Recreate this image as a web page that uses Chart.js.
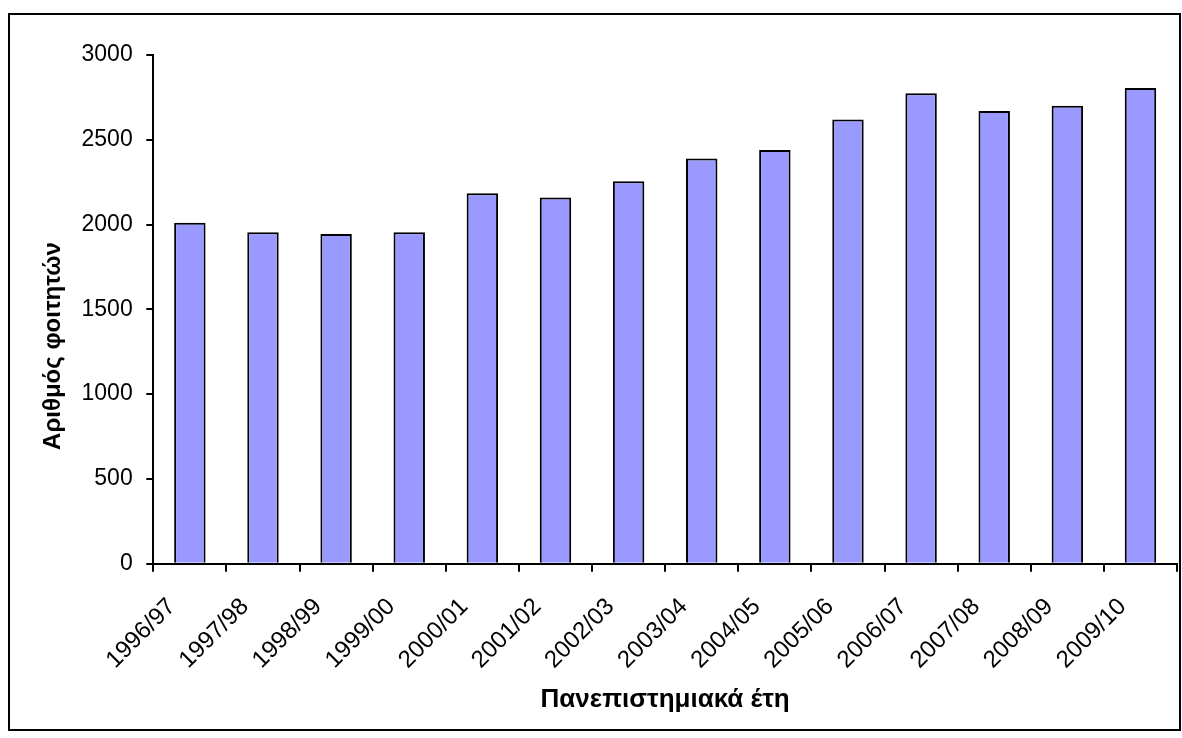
<!DOCTYPE html>
<html>
<head>
<meta charset="utf-8">
<style>
  body { margin: 0; background: #fff; }
  #wrap { width: 1182px; height: 738px; }
</style>
</head>
<body>
<div id="wrap">
  <canvas id="myChart" width="1182" height="738"></canvas>
</div>

<script src="https://cdn.jsdelivr.net/npm/chart.js"></script>
<script>
  // Ακαδημαϊκά έτη και αριθμός φοιτητών
  const years = ['1996/97', '1997/98', '1998/99', '1999/00', '2000/01', '2001/02', '2002/03',
                 '2003/04', '2004/05', '2005/06', '2006/07', '2007/08', '2008/09', '2009/10'];
  const students = [2010, 1955, 1945, 1955, 2185, 2160, 2255, 2390, 2440, 2620, 2775, 2670, 2700, 2805];

  const yMin = 0;
  const yMax = 3000;
  const yStep = 500;

  const xTitle = 'Πανεπιστημιακά έτη';
  const yTitle = 'Αριθμός φοιτητών';

  const fontFamily = '"Liberation Sans", Arial, sans-serif';

  // Τίτλος του άξονα y και πλαίσιο γύρω από το γράφημα
  const decorPlugin = {
    id: 'decor',
    afterDraw(chart) {
      const ctx = chart.ctx;
      ctx.save();
      ctx.strokeStyle = '#000';
      ctx.lineWidth = 2;
      ctx.strokeRect(9, 14, 1171, 716);

      ctx.translate(53, 346);
      ctx.rotate(-Math.PI / 2);
      ctx.font = 'bold 24px ' + fontFamily;
      ctx.fillStyle = '#000';
      ctx.textAlign = 'center';
      ctx.textBaseline = 'middle';
      ctx.fillText(yTitle, 0, 0);
      ctx.restore();
    }
  };

  const data = {
    labels: years,
    datasets: [
      {
        label: yTitle,
        data: students,
        backgroundColor: '#9999FF',
        borderColor: '#000',
        borderWidth: 2,
        categoryPercentage: 1,
        barPercentage: 0.43,
      },
    ]
  };

  const config = {
    type: 'bar',
    data: data,
    plugins: [decorPlugin],
    options: {
      responsive: false,
      animation: false,
      layout: { padding: { top: 55, right: 4.7, left: 0, bottom: 0 } },
      plugins: {
        legend: { display: false },
        tooltip: { enabled: false },
      },
      scales: {
        x: {
          afterFit: (scale) => { scale.height = 174.3; },
          border: { color: '#000', width: 2 },
          grid: {
            offset: true,
            drawOnChartArea: false,
            color: '#000',
            lineWidth: 2,
            tickLength: 8,
          },
          ticks: {
            color: '#000',
            font: { family: fontFamily, size: 24 },
            minRotation: 45,
            maxRotation: 45,
            autoSkip: false,
            padding: 21,
            labelOffset: -18,
          },
          title: {
            display: true,
            text: xTitle,
            color: '#000',
            font: { family: fontFamily, size: 26, weight: 'bold' },
            padding: { top: 0, bottom: 23 },
          },
        },
        y: {
          min: yMin,
          max: yMax,
          afterFit: (scale) => { scale.width = 153.3; },
          border: { color: '#000', width: 2 },
          grid: {
            drawOnChartArea: false,
            color: '#000',
            lineWidth: 2,
            tickLength: 7,
          },
          ticks: {
            stepSize: yStep,
            color: '#000',
            font: { family: fontFamily, size: 23 },
            padding: 13.6,
            callback: (value) => String(value),
          },
        },
      },
    },
  };

  const myChart = new Chart(document.getElementById('myChart'), config);
</script>
</body>
</html>
